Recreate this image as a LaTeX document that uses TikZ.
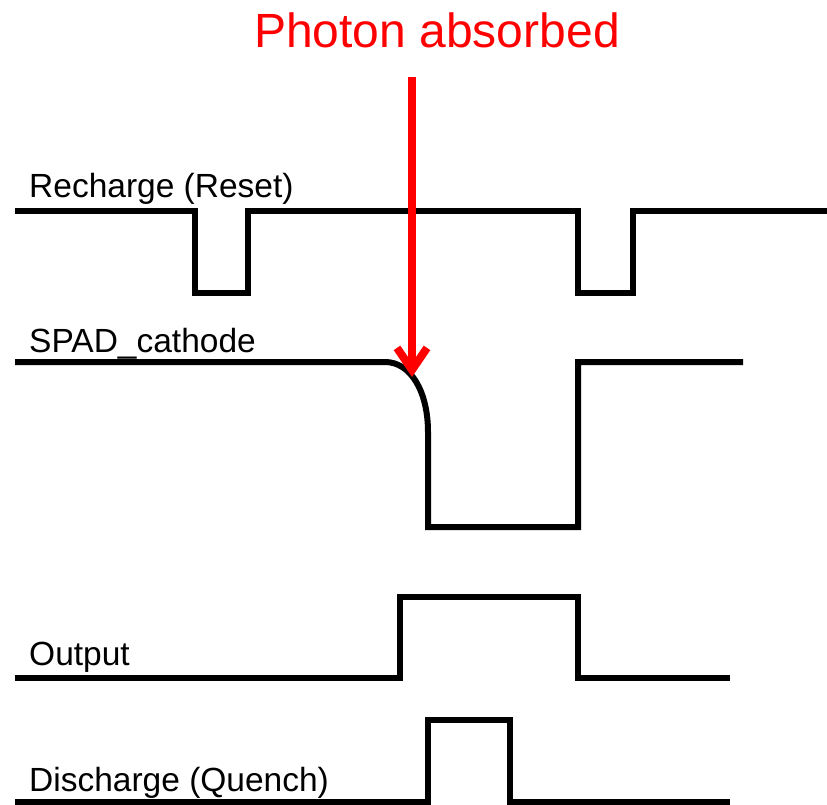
\documentclass[tikz,border=0pt]{standalone}
\usepackage{fontspec}
\setmainfont{Liberation Sans}
\usetikzlibrary{arrows.meta}

\begin{document}
\begin{tikzpicture}[
  x=1pt, y=-1pt,
  wave/.style={line width=6pt, line join=miter},
  lbl/.style={font=\fontsize{33.5}{40}\selectfont, anchor=base west, inner sep=0pt},
  photon/.style={draw=red, line width=8pt, -{Straight Barb[length=22pt, width=30pt]}}
]
\useasboundingbox (0,0) rectangle (827,805);
% signal names
\node[lbl] (rch) at (29,197) {Recharge (Reset)};
\node[lbl] (spd) at (29,352) {SPAD\_cathode};
\node[lbl] (out) at (29,665) {Output};
\node[lbl] (dis) at (29,791) {Discharge (Quench)};
\node[font=\fontsize{48}{56}\selectfont, text=red, anchor=base, inner sep=0pt] (ph) at (437,48) {Photon absorbed};
% waveforms
\draw[wave] (15,211) -- (195,211) -- (195,293) -- (248,293) -- (248,211)
  -- (578,211) -- (578,293) -- (633,293) -- (633,211) -- (827,211);
\draw[wave] (15,362) -- (385,362) .. controls (411,362) and (428,392) .. (428,432)
  -- (428,527) -- (578,527) -- (578,362) -- (743,362);
\draw[wave] (15,678) -- (400,678) -- (400,597) -- (578,597) -- (578,678) -- (730,678);
\draw[wave] (15,802) -- (428,802) -- (428,720) -- (510,720) -- (510,802) -- (730,802);
% photon hit
\coordinate (src) at (412,77);
\coordinate (hit) at (412,377);
\draw[photon] (src) -- (hit);
\end{tikzpicture}
\end{document}
